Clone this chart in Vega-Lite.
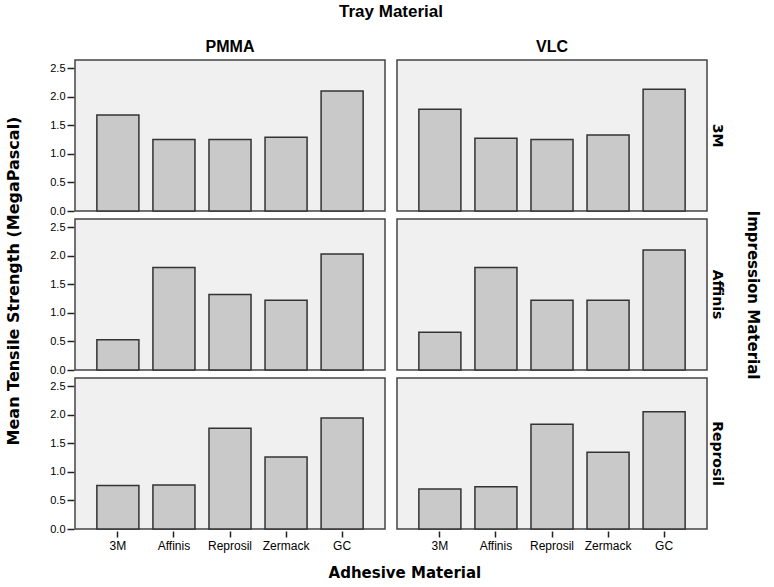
{
  "$schema": "https://vega.github.io/schema/vega-lite/v6.json",
  "background": "white",
  "padding": {"left": 5, "right": 5, "top": 3, "bottom": 1},
  "title": {
    "text": "Mean Tensile Strength (MegaPascal)",
    "orient": "left", "anchor": "middle",
    "font": "DejaVu Sans", "fontSize": 16, "fontWeight": "bold", "color": "black",
    "offset": 28, "dx": 11
  },
  "hconcat": [{
    "title": {
      "text": "Adhesive Material",
      "orient": "bottom", "anchor": "middle",
      "font": "DejaVu Sans", "fontSize": 15, "fontWeight": "bold", "color": "black",
      "offset": 15
    },
    "data": {"values": [
      {"tray": "PMMA", "impression": "3M", "adhesive": "3M", "strength": 1.68},
      {"tray": "PMMA", "impression": "3M", "adhesive": "Affinis", "strength": 1.25},
      {"tray": "PMMA", "impression": "3M", "adhesive": "Reprosil", "strength": 1.25},
      {"tray": "PMMA", "impression": "3M", "adhesive": "Zermack", "strength": 1.29},
      {"tray": "PMMA", "impression": "3M", "adhesive": "GC", "strength": 2.10},
      {"tray": "VLC", "impression": "3M", "adhesive": "3M", "strength": 1.78},
      {"tray": "VLC", "impression": "3M", "adhesive": "Affinis", "strength": 1.27},
      {"tray": "VLC", "impression": "3M", "adhesive": "Reprosil", "strength": 1.25},
      {"tray": "VLC", "impression": "3M", "adhesive": "Zermack", "strength": 1.33},
      {"tray": "VLC", "impression": "3M", "adhesive": "GC", "strength": 2.13},
      {"tray": "PMMA", "impression": "Affinis", "adhesive": "3M", "strength": 0.53},
      {"tray": "PMMA", "impression": "Affinis", "adhesive": "Affinis", "strength": 1.79},
      {"tray": "PMMA", "impression": "Affinis", "adhesive": "Reprosil", "strength": 1.32},
      {"tray": "PMMA", "impression": "Affinis", "adhesive": "Zermack", "strength": 1.22},
      {"tray": "PMMA", "impression": "Affinis", "adhesive": "GC", "strength": 2.03},
      {"tray": "VLC", "impression": "Affinis", "adhesive": "3M", "strength": 0.66},
      {"tray": "VLC", "impression": "Affinis", "adhesive": "Affinis", "strength": 1.79},
      {"tray": "VLC", "impression": "Affinis", "adhesive": "Reprosil", "strength": 1.22},
      {"tray": "VLC", "impression": "Affinis", "adhesive": "Zermack", "strength": 1.22},
      {"tray": "VLC", "impression": "Affinis", "adhesive": "GC", "strength": 2.10},
      {"tray": "PMMA", "impression": "Reprosil", "adhesive": "3M", "strength": 0.76},
      {"tray": "PMMA", "impression": "Reprosil", "adhesive": "Affinis", "strength": 0.77},
      {"tray": "PMMA", "impression": "Reprosil", "adhesive": "Reprosil", "strength": 1.76},
      {"tray": "PMMA", "impression": "Reprosil", "adhesive": "Zermack", "strength": 1.26},
      {"tray": "PMMA", "impression": "Reprosil", "adhesive": "GC", "strength": 1.94},
      {"tray": "VLC", "impression": "Reprosil", "adhesive": "3M", "strength": 0.70},
      {"tray": "VLC", "impression": "Reprosil", "adhesive": "Affinis", "strength": 0.74},
      {"tray": "VLC", "impression": "Reprosil", "adhesive": "Reprosil", "strength": 1.83},
      {"tray": "VLC", "impression": "Reprosil", "adhesive": "Zermack", "strength": 1.34},
      {"tray": "VLC", "impression": "Reprosil", "adhesive": "GC", "strength": 2.05}
    ]},
    "facet": {
      "column": {
        "field": "tray", "type": "nominal", "sort": ["PMMA", "VLC"],
        "header": {
          "title": "Tray Material",
          "titleFont": "Liberation Sans Narrow, Liberation Sans, sans-serif",
          "titleFontSize": 17, "titleFontWeight": "bold", "titleColor": "black",
          "titlePadding": 8,
          "labelFont": "Liberation Sans Narrow, Liberation Sans, sans-serif",
          "labelFontSize": 16, "labelFontWeight": "bold", "labelColor": "black",
          "labelPadding": 4
        }
      },
      "row": {
        "field": "impression", "type": "nominal", "sort": ["3M", "Affinis", "Reprosil"],
        "header": {
          "title": "Impression Material",
          "labelOrient": "right", "titleOrient": "right",
          "labelAngle": 90, "titleAngle": 90,
          "titleFont": "DejaVu Sans", "titleFontSize": 15, "titleFontWeight": "bold", "titleColor": "black",
          "titlePadding": 11,
          "labelFont": "DejaVu Sans", "labelFontSize": 14, "labelFontWeight": "bold", "labelColor": "black",
          "labelPadding": 2
        }
      }
    },
    "spacing": {"row": 5, "column": 10},
    "spec": {
      "width": 310,
      "height": 151,
      "mark": {"type": "bar", "fill": "#c9c9c9", "stroke": "#333333", "strokeWidth": 1.5},
      "encoding": {
        "x": {
          "field": "adhesive", "type": "nominal",
          "sort": ["3M", "Affinis", "Reprosil", "Zermack", "GC"],
          "scale": {"paddingInner": 0.25, "paddingOuter": 0.39},
          "axis": {
            "title": null,
            "labelAngle": 0,
            "labelFont": "Liberation Sans Narrow, Liberation Sans, sans-serif",
            "labelFontSize": 12, "labelColor": "black", "labelPadding": 3,
            "tickColor": "#222", "tickSize": 6, "tickWidth": 1.5,
            "domain": false
          }
        },
        "y": {
          "field": "strength", "type": "quantitative",
          "scale": {"domain": [0, 2.64], "nice": false},
          "axis": {
            "title": null,
            "values": [0, 0.5, 1, 1.5, 2, 2.5],
            "format": ".1f",
            "grid": false, "domain": false,
            "labelFont": "Liberation Sans, sans-serif",
            "labelFontSize": 11, "labelColor": "black", "labelPadding": 2,
            "tickColor": "#222", "tickSize": 7, "tickWidth": 1.5
          }
        }
      }
    }
  }],
  "config": {
    "view": {"fill": "#f0f0f0", "stroke": "#444444", "strokeWidth": 1.5}
  }
}
